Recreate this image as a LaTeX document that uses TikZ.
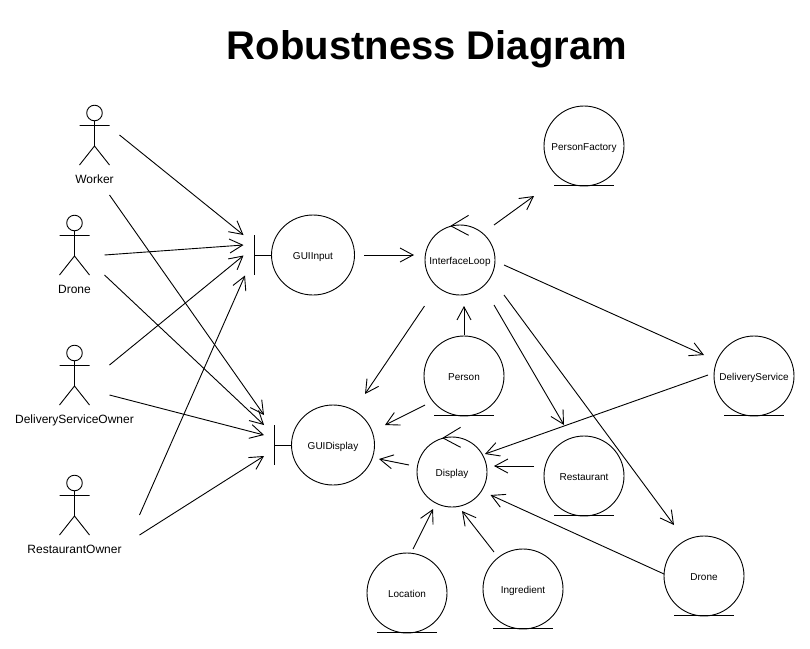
\documentclass[tikz,border=0pt]{standalone}
\usepackage{fontspec}
\setmainfont{Liberation Sans}
\usetikzlibrary{arrows.meta,calc,shapes.geometric}
\tikzset{
  x=1pt,y=-1pt,
  every path/.append style={line width=0.9pt,line join=round},
  arr/.style={-{Straight Barb[length=13pt,width=14pt,line width=0.9pt]}},
  actorfig/.pic={
    \draw (0,0) circle[radius=7.8pt];
    \draw (0,8) -- (0,33) (-15,12.5) -- (15,12.5) (-15,52) -- (0,33) -- (15,52);
  },
  actorlabel/.style={font=\fontsize{12pt}{14pt}\selectfont,inner sep=0pt,text height=13pt,text depth=2.5pt},
  lab/.style={font=\fontsize{10pt}{12pt}\selectfont,inner sep=0pt,text height=11.5pt,text depth=2pt,align=center},
  roundel/.style={lab,draw,circle,minimum size=#1},
  boundary/.style={lab,draw,ellipse,minimum width=83pt,minimum height=80pt},
}
\begin{document}
\begin{tikzpicture}
\useasboundingbox (0,0) rectangle (810,648);
\node[font=\bfseries\fontsize{40pt}{44pt}\selectfont,inner sep=0pt] (title) at (427,49) {Robustness Diagram};

% actors
\pic at (94.5,113) {actorfig};
\node[actorlabel] (worker) at (94.5,178) {Worker};
\pic at (74.5,223) {actorfig};
\node[actorlabel] (droneactor) at (74.5,288) {Drone};
\pic at (74.5,353) {actorfig};
\node[actorlabel] (dso) at (74.5,418) {DeliveryServiceOwner};
\pic at (74.5,483) {actorfig};
\node[actorlabel] (ro) at (74.5,548) {RestaurantOwner};

% boundaries
\node[boundary] (guiin) at (313,255) {GUIInput};
\node[boundary] (guidisp) at (333,445) {GUIDisplay};
\draw (guiin.west) -- ++(-17,0) ++(0,-20) -- ++(0,40);
\draw (guidisp.west) -- ++(-17,0) ++(0,-20) -- ++(0,40);

% controls
\node[roundel=70pt] (il) at (460,260) {InterfaceLoop};
\node[roundel=70pt] (display) at (452,472) {Display};
\foreach \n in {il,display}
  \draw ($(\n)+(8.6,-44.7)$) -- ($(\n)+(-9,-34)$) -- ($(\n)+(8.6,-24.7)$);

% entities
\node[roundel=80pt] (pf) at (584,146) {PersonFactory};
\node[roundel=80pt] (ds) at (754,376) {DeliveryService};
\node[roundel=80pt] (person) at (464,376) {Person};
\node[roundel=80pt] (rest) at (584,476) {Restaurant};
\node[roundel=80pt] (droneent) at (704,576) {Drone};
\node[roundel=80pt] (loc) at (407,593) {Location};
\node[roundel=80pt] (ingr) at (523,589) {Ingredient};
\foreach \n in {pf,ds,person,rest,droneent,loc,ingr}
  \draw ($(\n.south)+(-30,-1)$) -- ++(60,0);

% connectors
\draw[arr] ($(worker)+(25,-43)$) -- ($(guiin)+(-69.5,-20)$);
\draw[arr] ($(droneactor)+(30,-33)$) -- ($(guiin)+(-69.5,-10)$);
\draw[arr] ($(dso)+(35,-53)$) -- ($(guiin)+(-69.5,0.5)$);
\draw[arr] ($(ro)+(65,-33)$) -- ($(guiin)+(-68,20.5)$);
\draw[arr] ($(worker)+(15,17)$) -- ($(guidisp)+(-69,-30)$);
\draw[arr] ($(droneactor)+(30,-13)$) -- ($(guidisp)+(-69,-20)$);
\draw[arr] ($(dso)+(35,-23)$) -- ($(guidisp)+(-69,-10)$);
\draw[arr] ($(ro)+(65,-13)$) -- ($(guidisp)+(-69,11)$);
\draw[arr] ($(guiin)+(51,0)$) -- ($(il)+(-46,-5)$);
\draw[arr] ($(il)+(34,-35)$) -- ($(pf)+(-50,50)$);
\draw[arr] ($(il)+(44,5)$) -- ($(ds)+(-50,-21)$);
\draw[arr] ($(il)+(-35.5,46)$) -- ($(guidisp)+(32,-51)$);
\draw[arr] ($(person)+(0,-41)$) -- ($(il)+(4,46)$);
\draw[arr] ($(person)+(-39,29)$) -- ($(guidisp)+(52,-20)$);
\draw[arr] ($(il)+(34,45)$) -- ($(rest)+(-20,-51)$);
\draw[arr] ($(il)+(44,35)$) -- ($(droneent)+(-30,-51)$);
\draw[arr] ($(display)+(-43,-7)$) -- ($(guidisp)+(46,14)$);
\draw[arr] ($(ds)+(-46,-1)$) -- ($(display)+(33,-18)$);
\draw[arr] ($(rest)+(-50,-10)$) -- ($(display)+(42,-6)$);
\draw[arr] ($(droneent)+(-40,-2)$) -- ($(display)+(38.5,23)$);
\draw[arr] ($(loc)+(6,-44)$) -- ($(display)+(-19,37)$);
\draw[arr] ($(ingr)+(-29,-37)$) -- ($(display)+(10,39)$);
\end{tikzpicture}
\end{document}
